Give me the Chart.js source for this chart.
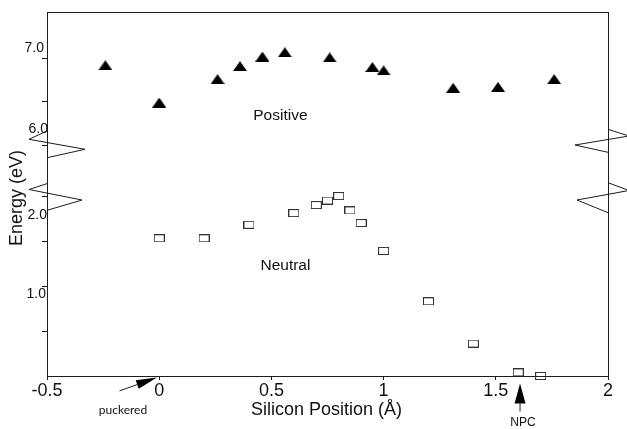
<!DOCTYPE html>
<html><head><meta charset="utf-8">
<script src="https://cdn.jsdelivr.net/npm/chart.js@4/dist/chart.umd.min.js"></script>
<style>html,body{margin:0;padding:0;background:#fff;}#wrap{width:627px;height:429px;}</style>
</head><body><div id="wrap"><canvas id="c" width="627" height="429"></canvas></div>
<script>
// ---- data ----
const positiveX = [-0.24, 0.0, 0.26, 0.36, 0.46, 0.56, 0.76, 0.95, 1.0, 1.31, 1.51, 1.76];
const positiveY = [6.92, 6.49, 6.76, 6.91, 7.02, 7.07, 7.01, 6.90, 6.86, 6.66, 6.67, 6.76];
const neutralX  = [0.0, 0.2, 0.4, 0.6, 0.7, 0.75, 0.8, 0.85, 0.9, 1.0, 1.2, 1.4, 1.6, 1.7];
const neutralY  = [1.53, 1.53, 1.68, 1.81, 1.90, 1.95, 2.00, 1.84, 1.70, 1.39, 0.83, 0.36, 0.04, 0.0];
const xTicks = [-0.5, 0, 0.5, 1, 1.5, 2];
const xTickLabels = ['-0.5', '0', '0.5', '1', '1.5', '2'];
const upperTicks = [6.0, 6.5, 7.0];
const lowerTicks = [0.5, 1.0, 1.5, 2.0];
const upperLabels = ['6.0', '7.0'];
const lowerLabels = ['1.0', '2.0'];
const xTitle = 'Silicon Position (Å)';
const yTitle = 'Energy (eV)';

// ---- marker images ----
function triMarker() {
  const c = document.createElement('canvas'); c.width = 14; c.height = 10;
  const g = c.getContext('2d');
  g.fillStyle = '#000'; g.beginPath();
  g.moveTo(7, 0); g.lineTo(14, 10); g.lineTo(0, 10); g.closePath(); g.fill();
  return c;
}
function boxMarker() {
  const c = document.createElement('canvas'); c.width = 11; c.height = 8;
  const g = c.getContext('2d');
  g.strokeStyle = '#333'; g.lineWidth = 1;
  g.strokeRect(0.5, 0.5, 10, 7);
  return c;
}

const INK = '#1c1c1c';
const SANS = '"Liberation Sans", Arial, sans-serif';

const decor = {
  id: 'decor',
  afterDraw(chart) {
    const ctx = chart.ctx, ca = chart.chartArea;
    const xs = chart.scales.x, yl = chart.scales.y, yt = chart.scales.yTop;
    const L = ca.left, R = ca.right, T = ca.top, B = ca.bottom;
    ctx.save();
    ctx.strokeStyle = INK; ctx.lineWidth = 1;
    // frame top & right
    ctx.beginPath();
    ctx.moveTo(L, T + 0.5); ctx.lineTo(R + 1, T + 0.5);
    ctx.moveTo(R + 0.5, T); ctx.lineTo(R + 0.5, B);
    ctx.stroke();
    // axis break zigzags
    const zig = (pts) => { ctx.beginPath(); ctx.moveTo(pts[0][0], pts[0][1]); for (let i = 1; i < pts.length; i++) ctx.lineTo(pts[i][0], pts[i][1]); ctx.stroke(); };
    zig([[L + 1, T + 118.5], [L - 18, T + 127.3], [L + 38, T + 137.3], [L + 1, T + 145.5]]);
    zig([[L + 1, T + 171.3], [L - 18, T + 177.5], [L + 35, T + 188], [L + 1, T + 198]]);
    zig([[R, T + 117.3], [R + 21, T + 124], [R - 33, T + 133], [R, T + 140.3]]);
    zig([[R, T + 170.7], [R + 21, T + 178.5], [R - 31, T + 188], [R, T + 200.7]]);
    // y tick labels (placed as in the original figure)
    ctx.fillStyle = '#111';
    ctx.font = '14px ' + SANS; ctx.textAlign = 'right'; ctx.textBaseline = 'middle';
    ctx.fillText(upperLabels[1], L - 3, yt.getPixelForValue(7.0) - 10);
    ctx.fillText(upperLabels[0], L + 1, yt.getPixelForValue(6.0) - 16);
    ctx.fillText(lowerLabels[1], L, yl.getPixelForValue(2.0) + 19);
    ctx.fillText(lowerLabels[0], L - 1, yl.getPixelForValue(1.0) + 8);
    // axis titles
    ctx.font = '18px ' + SANS; ctx.textAlign = 'center';
    ctx.fillText(xTitle, (L + R) / 2 - 1, B + 34);
    ctx.save(); ctx.translate(17.5, 198); ctx.rotate(-Math.PI / 2);
    ctx.fillText(yTitle, 0, 0); ctx.restore();
    // series annotations
    ctx.font = '15.5px ' + SANS;
    ctx.fillText('Positive', xs.getPixelForValue(0.54), yt.getPixelForValue(6.335));
    ctx.fillText('Neutral', xs.getPixelForValue(0.5625), yl.getPixelForValue(1.228));
    // arrows
    const arrow = (tx, ty, hx, hy, hl, hw) => {
      const dx = hx - tx, dy = hy - ty, len = Math.hypot(dx, dy);
      const ux = dx / len, uy = dy / len;
      const bx = hx - ux * hl, by = hy - uy * hl;
      ctx.beginPath(); ctx.moveTo(tx, ty); ctx.lineTo(bx, by); ctx.stroke();
      ctx.beginPath(); ctx.moveTo(hx, hy);
      ctx.lineTo(bx - uy * hw, by + ux * hw); ctx.lineTo(bx + uy * hw, by - ux * hw);
      ctx.closePath(); ctx.fillStyle = '#000'; ctx.fill();
    };
    const pkX = xs.getPixelForValue(-0.01), pkY = B + 1.5;
    arrow(pkX - 37.4, pkY + 13.4, pkX, pkY, 21, 4.5);
    const npX = xs.getPixelForValue(1.608), npY = B + 7.5;
    arrow(npX, npY + 28, npX, npY, 20, 5.5);
    ctx.fillStyle = '#111';
    ctx.font = '12px Lato, "Open Sans", sans-serif';
    ctx.fillText('puckered', pkX - 34, B + 34);
    ctx.font = '12px ' + SANS;
    ctx.fillText('NPC', npX + 3, B + 47);
    ctx.restore();
  }
};

const tickSetter = (vals) => (scale) => { scale.ticks = vals.map(v => ({ value: v })); };

new Chart(document.getElementById('c'), {
  type: 'scatter',
  data: {
    datasets: [
      {
        label: 'Positive', yAxisID: 'yTop',
        data: positiveX.map((x, i) => ({ x: x, y: positiveY[i] })),
        pointStyle: triMarker(), pointRadius: 6, clip: false
      },
      {
        label: 'Neutral', yAxisID: 'y',
        data: neutralX.map((x, i) => ({ x: x, y: neutralY[i] })),
        pointStyle: boxMarker(), pointRadius: 5, clip: false
      }
    ]
  },
  options: {
    responsive: false, animation: false, devicePixelRatio: 1,
    layout: { padding: { top: 12, right: 19, left: 0, bottom: 0 } },
    plugins: { legend: { display: false }, tooltip: { enabled: false } },
    scales: {
      x: {
        type: 'linear', position: 'bottom', min: -0.5, max: 2,
        afterBuildTicks: tickSetter(xTicks),
        afterFit: (s) => { s.height = 53; },
        ticks: {
          font: { family: SANS, size: 18 }, color: '#111', padding: 0, maxRotation: 0, autoSkip: false,
          callback: (v) => { const i = xTicks.indexOf(v); return i >= 0 ? xTickLabels[i] : ''; }
        },
        grid: { drawOnChartArea: false, drawTicks: true, tickLength: 4, color: INK },
        border: { color: INK, width: 1 }
      },
      y: {
        type: 'linear', position: 'left', stack: 'energy', stackWeight: 206, weight: 0,
        min: 0, max: 2.289,
        afterBuildTicks: tickSetter(lowerTicks),
        afterFit: (s) => { s.width = 47; },
        ticks: { callback: () => '' },
        grid: { drawOnChartArea: false, tickLength: 5, color: INK },
        border: { color: INK, width: 1 }
      },
      yTop: {
        type: 'linear', position: 'left', stack: 'energy', stackWeight: 158, weight: 1,
        min: 5.713, max: 7.533,
        afterBuildTicks: tickSetter(upperTicks),
        afterFit: (s) => { s.width = 47; },
        ticks: { callback: () => '' },
        grid: { drawOnChartArea: false, tickLength: 5, color: INK },
        border: { color: INK, width: 1 }
      }
    }
  },
  plugins: [decor]
});
</script>
</body></html>
